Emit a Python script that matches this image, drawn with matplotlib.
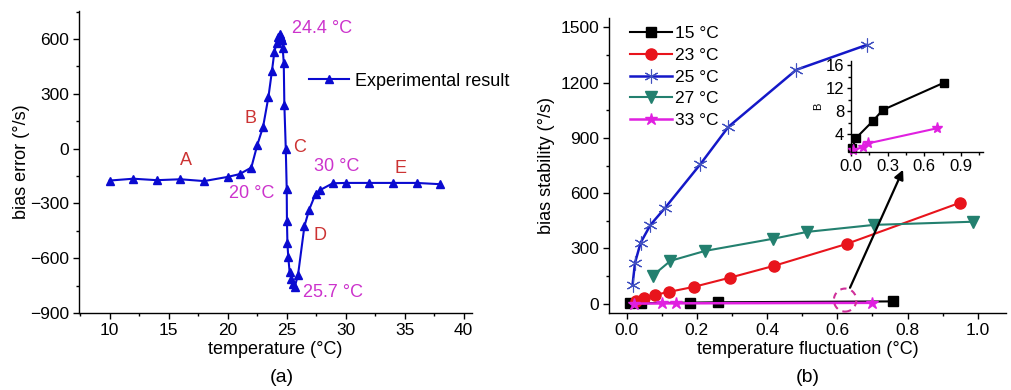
import matplotlib
matplotlib.use("Agg")
import matplotlib.pyplot as plt
from matplotlib.patches import Ellipse
from matplotlib.ticker import MultipleLocator

plt.rcParams['font.family'] = ['Liberation Sans', 'DejaVu Sans']
plt.rcParams['font.size'] = 13
plt.rcParams['xtick.labelsize'] = 12.5
plt.rcParams['ytick.labelsize'] = 12.5

# ---------------- data: panel (a) ----------------
temperature = [10, 12, 14, 16, 18, 20, 21, 22, 22.5, 23, 23.45, 23.75, 23.95, 24.15,
               24.3, 24.4, 24.5, 24.6, 24.66, 24.75, 24.8, 24.92, 25.0, 25.02, 25.06,
               25.13, 25.25, 25.4, 25.54, 25.68, 25.96, 26.5, 26.9, 27.45, 27.8,
               28.9, 30, 32, 34, 36, 38]
bias_error = [-175, -165, -173, -168, -178, -155, -140, -104, 18, 120, 282, 425, 527, 580,
              612, 628, 612, 592, 550, 468, 241, 0, -221, -395, -519,
              -592, -678, -715, -742, -757, -691, -425, -335, -247, -228,
              -190, -188, -188, -188, -188, -195]

# ---------------- data: panel (b) ----------------
fluct_15 = [0.011, 0.04, 0.18, 0.26, 0.757]
bias_15 = [1.6, 3.3, 6.3, 8.2, 12.9]
fluct_23 = [0.028, 0.05, 0.082, 0.122, 0.192, 0.293, 0.42, 0.627, 0.949]
bias_23 = [16, 33, 49, 65, 92, 141, 206, 325, 548]
fluct_25 = [0.017, 0.024, 0.04, 0.068, 0.11, 0.21, 0.29, 0.483, 0.685]
bias_25 = [103, 222, 331, 428, 521, 757, 960, 1269, 1405]
fluct_27 = [0.074, 0.125, 0.224, 0.418, 0.514, 0.705, 0.986]
bias_27 = [152, 233, 287, 353, 390, 428, 445]
fluct_33 = [0.02, 0.10, 0.14, 0.70]
bias_33 = [1.2, 1.8, 2.4, 5.0]

W, H = 1011, 390
fig = plt.figure(figsize=(W / 100, H / 100), dpi=100)


def px_axes(x0, x1, ytop, ybot):
    return fig.add_axes([x0 / W, 1 - ybot / H, (x1 - x0) / W, (ybot - ytop) / H])


def style(ax):
    for s in ('top', 'right'):
        ax.spines[s].set_visible(False)
    for s in ('left', 'bottom'):
        ax.spines[s].set_linewidth(1.0)
    ax.tick_params(which='major', direction='out', length=4, width=1.0, pad=3)
    ax.tick_params(which='minor', direction='out', length=2.5, width=1.0)


BLUE_A = '#0A0AD0'
MAG_TXT = '#CC33CC'
RED_TXT = '#CC3333'

# ---------------- panel (a) ----------------
axa = px_axes(79, 472, 11, 313)
style(axa)
axa.plot(temperature, bias_error, color=BLUE_A, lw=1.5, marker='^', ms=6,
         label='Experimental result')
axa.set_xlim(7.4, 40.7)
axa.set_ylim(-900, 753)
axa.xaxis.set_major_locator(MultipleLocator(5))
axa.xaxis.set_minor_locator(MultipleLocator(2.5))
axa.yaxis.set_major_locator(MultipleLocator(300))
axa.yaxis.set_minor_locator(MultipleLocator(150))
axa.set_yticks([-900, -600, -300, 0, 300, 600])
axa.set_yticklabels(['\u2212900', '\u2212600', '\u2212300', '0', '300', '600'])
axa.set_xlabel('temperature (\u00b0C)', labelpad=2)
axa.set_ylabel('bias error (\u00b0/s)', labelpad=0)
axa.legend(loc='center left', bbox_to_anchor=(309 / W, 1 - 81 / H),
           bbox_transform=fig.transFigure, frameon=False, borderpad=0,
           borderaxespad=0, handlelength=2.2, handletextpad=0.35)

axa.text(25.45, 658, '24.4 \u00b0C', color=MAG_TXT, ha='left', va='center')
axa.text(22.05, -247, '20 \u00b0C', color=MAG_TXT, ha='center', va='center')
axa.text(29.2, -99, '30 \u00b0C', color=MAG_TXT, ha='center', va='center')
axa.text(28.9, -790, '25.7 \u00b0C', color=MAG_TXT, ha='center', va='center')
axa.text(16.5, -66, 'A', color=RED_TXT, ha='center', va='center')
axa.text(21.9, 165, 'B', color=RED_TXT, ha='center', va='center')
axa.text(26.1, 5, 'C', color=RED_TXT, ha='center', va='center')
axa.text(27.8, -477, 'D', color=RED_TXT, ha='center', va='center')
axa.text(34.6, -110, 'E', color=RED_TXT, ha='center', va='center')
fig.text(282 / W, 1 - 377 / H, '(a)', ha='center', va='center', fontsize=14)

# ---------------- panel (b) ----------------
C15, C23, C25, C27, C33 = 'black', '#E8141C', '#1418C8', '#23806F', '#E020E0'
axb = px_axes(609, 1006, 18, 313)
style(axb)
axb.plot(fluct_15, bias_15, color=C15, lw=1.5, marker='s', ms=6.5, label='15 \u00b0C')
axb.plot(fluct_23, bias_23, color=C23, lw=1.5, marker='o', ms=8, label='23 \u00b0C')
axb.plot(fluct_25, bias_25, color=C25, lw=1.8, marker=(6, 2, 0), ms=10,
         mew=0.8, mec='#4050C0', label='25 \u00b0C')
axb.plot(fluct_27, bias_27, color=C27, lw=1.5, marker='v', ms=8, label='27 \u00b0C')
axb.plot(fluct_33, bias_33, color=C33, lw=1.8, marker='*', ms=9, label='33 \u00b0C')
axb.set_xlim(-0.05, 1.08)
axb.set_ylim(-50, 1550)
axb.xaxis.set_major_locator(MultipleLocator(0.2))
axb.xaxis.set_minor_locator(MultipleLocator(0.1))
axb.yaxis.set_major_locator(MultipleLocator(300))
axb.yaxis.set_minor_locator(MultipleLocator(150))
axb.set_yticks([0, 300, 600, 900, 1200, 1500])
axb.set_xticks([0.0, 0.2, 0.4, 0.6, 0.8, 1.0])
axb.set_xticklabels(['0.0', '0.2', '0.4', '0.6', '0.8', '1.0'])
axb.set_xlabel('temperature fluctuation (\u00b0C)', labelpad=2)
axb.set_ylabel('bias stability (\u00b0/s)', labelpad=4)
axb.legend(loc='upper left', bbox_to_anchor=(630 / W, 1 - 26 / H),
           bbox_transform=fig.transFigure, frameon=False, borderpad=0,
           borderaxespad=0, handlelength=2.4, handletextpad=0.2, labelspacing=0.38,
           fontsize=12.5)

# dashed circle + arrow to the inset
circ_center = (0.622, 20)
axb.add_patch(Ellipse(circ_center, 0.064, 125, fill=False, ls=(0, (3, 2.5)),
                      lw=1.5, ec='#D0309A', zorder=5))
arrow_tail = (0.636, 87)
arrow_head = (0.787, 727)
axb.annotate('', xy=arrow_head, xytext=arrow_tail,
             arrowprops=dict(arrowstyle='-|>', color='black', lw=1.6,
                             mutation_scale=14, shrinkA=0, shrinkB=0))
fig.text(808 / W, 1 - 378 / H, '(b)', ha='center', va='center', fontsize=14)

# ---------------- inset ----------------
axi = px_axes(851, 983, 61, 152)
style(axi)
axi.plot(fluct_15, bias_15, color=C15, lw=1.5, marker='s', ms=6, clip_on=False)
axi.plot(fluct_33, bias_33, color=C33, lw=1.5, marker='*', ms=8, clip_on=False)
axi.set_xlim(0, 1.08)
axi.set_ylim(0.9, 16.7)
axi.xaxis.set_major_locator(MultipleLocator(0.3))
axi.xaxis.set_minor_locator(MultipleLocator(0.15))
axi.set_yticks([4, 8, 12, 16])
axi.yaxis.set_minor_locator(MultipleLocator(2))
axi.set_xticks([0.0, 0.3, 0.6, 0.9])
axi.set_xticklabels(['0.0', '0.3', '0.6', '0.9'])
axi.tick_params(which='major', labelsize=12, length=3, pad=2)
axi.tick_params(which='minor', length=2)
axi.set_ylabel('B', fontsize=8, labelpad=2)

fig.savefig('out.png', dpi=100)
